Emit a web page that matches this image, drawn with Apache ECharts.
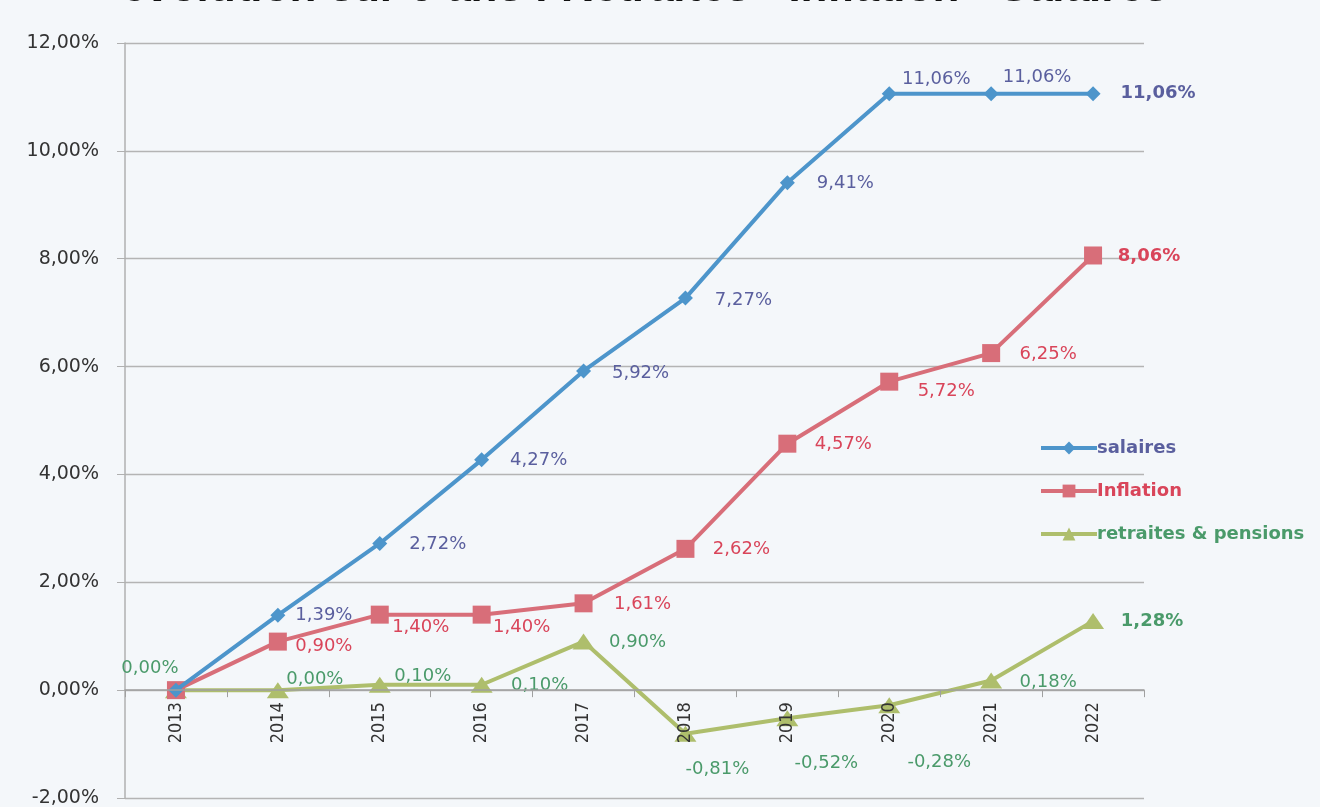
<!DOCTYPE html>
<html><head><meta charset="utf-8">
<script src="https://cdn.jsdelivr.net/npm/echarts@6/dist/echarts.min.js"></script>
<style>html,body{margin:0;padding:0;background:#f4f7fa}#c{width:1320px;height:807px}</style>
</head><body><div id="c"></div>
<script>
const years = ['2013','2014','2015','2016','2017','2018','2019','2020','2021','2022'];
const salaires = [0, 1.39, 2.72, 4.27, 5.92, 7.27, 9.41, 11.06, 11.06, 11.06];
const inflation = [0, 0.90, 1.40, 1.40, 1.61, 2.62, 4.57, 5.72, 6.25, 8.06];
const retraites = [0, 0.00, 0.10, 0.10, 0.90, -0.81, -0.52, -0.28, 0.18, 1.28];
const yTicks = {min: -2, max: 12, interval: 2};

const fmt = v => v.toFixed(2).replace('.', ',') + '%';
const LF = 'DejaVu Sans';

// label placement (pixel offsets of the label centre from its point; null = no label)
const salOff = [null, [46,0], [58,1], [57,0], [57,2], [58,2], [58,1], [47,-14], [46,-16], [65,0]];
const infOff = [null, [46,5], [41,13], [40,13], [59,1], [56,0], [56,1], [57,10], [57,1], [56,1]];
const retOff = [[-26,-22], [37,-11], [43,-8], [58,1], [54,1], [32,36], [39,45], [50,57], [57,2], [59,0]];

function labelsFor(values, color, offs) {
  return values.map((v, i) => {
    const o = offs[i];
    const item = {value: v};
    if (!o) { item.label = {show: false}; return item; }
    item.label = {
      show: true, position: 'inside', offset: o, color: color, fontFamily: LF, fontSize: 18,
      fontWeight: i === values.length - 1 ? 'bold' : 'normal',
      formatter: () => fmt(v)
    };
    return item;
  });
}

const G = {left: 125, right: 176, top: 43, bottom: 9};
const plotH = 807 - G.top - G.bottom;
const zeroOffset = -plotH * (0 - yTicks.min) / (yTicks.max - yTicks.min);

const chart = echarts.init(document.getElementById('c'));
chart.setOption({
  backgroundColor: '#f4f7fa',
  animation: false,
  title: {
    text: 'évolution sur 9 ans : Retraites - Inflation - Salaires',
    left: 118, top: -38,
    textStyle: {fontFamily: 'Liberation Sans', fontStyle: 'italic', fontWeight: 'bold', fontSize: 44, color: '#111'}
  },
  grid: Object.assign({containLabel: false, outerBoundsMode: 'none'}, G),
  legend: {
    orient: 'vertical', left: 1034, top: 434, itemWidth: 56, itemHeight: 16, itemGap: 25,
    lineStyle: {width: 4},
    data: [
      {name: 'salaires', textStyle: {color: '#5a5f9e'}},
      {name: 'Inflation', textStyle: {color: '#d9455a'}},
      {name: 'retraites & pensions', textStyle: {color: '#4a9a6a'}}
    ],
    textStyle: {fontFamily: LF, fontWeight: 'bold', fontSize: 18, padding: [0,0,0,-5]}
  },
  xAxis: {
    type: 'category', data: years, boundaryGap: true, position: 'bottom', offset: zeroOffset, z: 10,
    axisLine: {onZero: false, lineStyle: {color: '#a0a0a0', width: 1.5}},
    axisTick: {show: true, alignWithLabel: false, length: 7, lineStyle: {color: '#a0a0a0'}},
    axisLabel: {rotate: 90, margin: 12, color: '#333', fontFamily: "'DejaVu Sans Condensed', 'Liberation Sans', sans-serif", fontSize: 18}
  },
  yAxis: {
    type: 'value', min: yTicks.min, max: yTicks.max, interval: yTicks.interval,
    axisLine: {show: true, lineStyle: {color: '#b0b0b0', width: 1.5}},
    axisTick: {show: true, length: 8, lineStyle: {color: '#b0b0b0'}},
    splitLine: {lineStyle: {color: '#b4b4b4', width: 1.3}},
    axisLabel: {formatter: v => fmt(v), color: '#333', fontFamily: LF, fontSize: 19, margin: 26}
  },
  series: [
    {name: 'salaires', type: 'line', data: labelsFor(salaires, '#5a5f9e', salOff),
     symbol: 'diamond', symbolSize: 15, lineStyle: {width: 4, color: '#4d95cb'}, itemStyle: {color: '#4d95cb'}, z: 4},
    {name: 'Inflation', type: 'line', data: labelsFor(inflation, '#d9455a', infOff),
     symbol: 'rect', symbolSize: 18, lineStyle: {width: 4, color: '#d86e79'}, itemStyle: {color: '#d86e79'}, z: 3},
    {name: 'retraites & pensions', type: 'line', data: labelsFor(retraites, '#4a9a6a', retOff),
     symbol: 'triangle', symbolSize: [22, 16], lineStyle: {width: 4, color: '#aebe6c'}, itemStyle: {color: '#aebe6c'}, z: 2}
  ]
});
</script></body></html>
